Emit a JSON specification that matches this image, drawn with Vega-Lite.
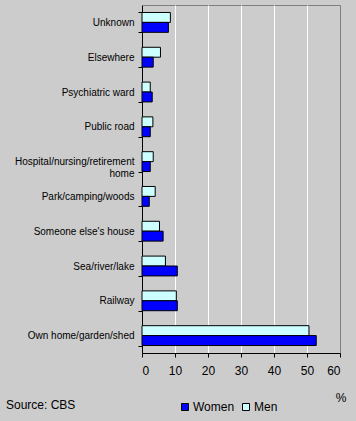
{
  "$schema": "https://vega.github.io/schema/vega-lite/v6.json",
  "width": 198,
  "height": 348,
  "autosize": {"type": "none"},
  "padding": {"left": 142, "top": 5, "right": 16, "bottom": 68},
  "background": "#CCCCCC",
  "title": {
    "text": "Source: CBS",
    "orient": "bottom",
    "anchor": "start",
    "frame": "group",
    "dx": -136,
    "dy": -13,
    "offset": 0,
    "fontSize": 12,
    "fontWeight": "normal",
    "color": "black",
    "font": "Liberation Sans"
  },
  "data": {
    "values": [
      {"place": "Unknown", "sex": "Men", "pct": 8.6},
      {"place": "Unknown", "sex": "Women", "pct": 8.0},
      {"place": "Elsewhere", "sex": "Men", "pct": 5.6},
      {"place": "Elsewhere", "sex": "Women", "pct": 3.4},
      {"place": "Psychiatric ward", "sex": "Men", "pct": 2.5},
      {"place": "Psychiatric ward", "sex": "Women", "pct": 3.1},
      {"place": "Public road", "sex": "Men", "pct": 3.3},
      {"place": "Public road", "sex": "Women", "pct": 2.5},
      {"place": "Hospital/nursing/retirement home", "sex": "Men", "pct": 3.4},
      {"place": "Hospital/nursing/retirement home", "sex": "Women", "pct": 2.5},
      {"place": "Park/camping/woods", "sex": "Men", "pct": 4.0},
      {"place": "Park/camping/woods", "sex": "Women", "pct": 2.2},
      {"place": "Someone else's house", "sex": "Men", "pct": 5.3},
      {"place": "Someone else's house", "sex": "Women", "pct": 6.4},
      {"place": "Sea/river/lake", "sex": "Men", "pct": 7.1},
      {"place": "Sea/river/lake", "sex": "Women", "pct": 10.7},
      {"place": "Railway", "sex": "Men", "pct": 10.4},
      {"place": "Railway", "sex": "Women", "pct": 10.7},
      {"place": "Own home/garden/shed", "sex": "Men", "pct": 50.6},
      {"place": "Own home/garden/shed", "sex": "Women", "pct": 52.8}
    ]
  },
  "mark": {"type": "bar", "stroke": "black", "strokeWidth": 1},
  "encoding": {
    "y": {
      "field": "place",
      "type": "nominal",
      "sort": ["Unknown", "Elsewhere", "Psychiatric ward", "Public road", "Hospital/nursing/retirement home", "Park/camping/woods", "Someone else's house", "Sea/river/lake", "Railway", "Own home/garden/shed"],
      "scale": {"paddingInner": 0.43, "paddingOuter": 0.215},
      "axis": {
        "title": null,
        "grid": false,
        "domainColor": "black",
        "ticks": true,
        "tickBand": "extent",
        "tickColor": "black",
        "tickSize": 4,
        "labelFontSize": 10,
        "labelColor": "black",
        "labelPadding": 4,
        "labelLineHeight": 12,
        "labelFont": "Liberation Sans",
        "labelExpr": "datum.label == 'Hospital/nursing/retirement home' ? ['Hospital/nursing/retirement', 'home'] : datum.label"
      }
    },
    "yOffset": {
      "field": "sex",
      "type": "nominal",
      "sort": ["Men", "Women"],
      "scale": {"paddingInner": 0, "paddingOuter": 0}
    },
    "x": {
      "field": "pct",
      "type": "quantitative",
      "scale": {"domain": [0, 60], "nice": false},
      "axis": {
        "title": "%",
        "values": [0, 10, 20, 30, 40, 50, 60],
        "grid": true,
        "gridColor": {"condition": {"test": "datum.value === 60", "value": "#808080"}, "value": "white"},
        "gridOpacity": 1,
        "domainColor": "black",
        "tickColor": "black",
        "tickSize": 4,
        "labelFontSize": 12,
        "labelColor": "black",
        "labelPadding": 8,
        "labelFont": "Liberation Sans",
        "titleX": 204,
        "titleY": 48,
        "titleAlign": "right",
        "titleBaseline": "alphabetic",
        "titleFontWeight": "normal",
        "titleFontSize": 12,
        "titleFont": "Liberation Sans",
        "titleColor": "black"
      }
    },
    "color": {
      "field": "sex",
      "type": "nominal",
      "scale": {"domain": ["Women", "Men"], "range": ["#0000FF", "#CCFFFF"]},
      "legend": {
        "orient": "none",
        "legendX": 37,
        "legendY": 396,
        "direction": "horizontal",
        "title": null,
        "symbolType": "square",
        "symbolSize": 49,
        "symbolStrokeColor": "black",
        "symbolStrokeWidth": 1,
        "symbolOpacity": 1,
        "labelFontSize": 12,
        "labelFont": "Liberation Sans",
        "labelColor": "black",
        "labelOffset": 2,
        "columnPadding": 5,
        "padding": 0
      }
    }
  },
  "config": {
    "view": {"fill": "#CCCCCC", "stroke": "#808080", "strokeWidth": 1},
    "font": "Liberation Sans"
  }
}
